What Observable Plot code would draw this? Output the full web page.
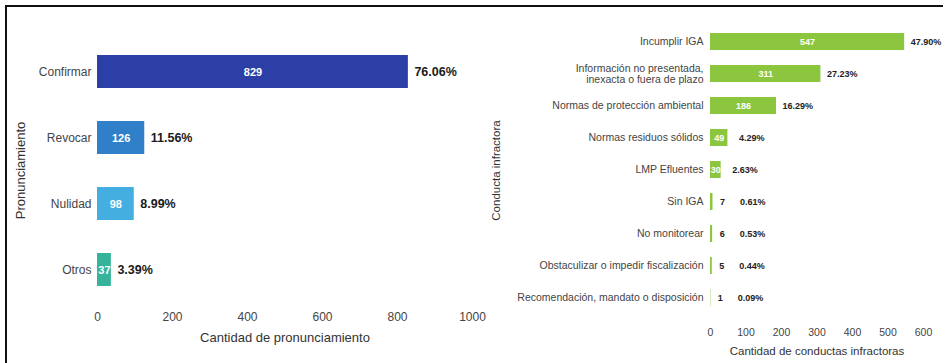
<!DOCTYPE html>
<html>
<head>
<meta charset="utf-8">
<script src="https://cdn.jsdelivr.net/npm/d3@7"></script>
<script src="https://cdn.jsdelivr.net/npm/@observablehq/plot@0.6"></script>
<style>
  html, body { margin: 0; padding: 0; background: #fff; }
  #wrap { position: relative; width: 945px; height: 363px; overflow: hidden; font-family: "Liberation Sans", Arial, sans-serif; }
  #frame { position: absolute; left: 5px; top: 5px; right: 2px; bottom: -5px; border-top: 2px solid #111; border-left: 2px solid #111; }
  #left { position: absolute; left: 0; top: 0; }
  #right { position: absolute; left: 480px; top: 0; }
  svg { overflow: visible; }
  #left g[aria-label="x-axis label"] text, #left g[aria-label="y-axis label"] text { font-size: 13px; fill: #333; }
  #right g[aria-label="x-axis label"] text, #right g[aria-label="y-axis label"] text { font-size: 11.5px; fill: #333; }
</style>
</head>
<body>
<div id="wrap">
  <div id="frame"></div>
  <div id="left"></div>
  <div id="right"></div>
</div>
<script>
// ---- Left chart data ----
const leftCats = ["Confirmar", "Revocar", "Nulidad", "Otros"];
const leftValues = [829, 126, 98, 37];
const leftPct = ["76.06%", "11.56%", "8.99%", "3.39%"];
const leftColors = ["#2b3fa6", "#2f80c8", "#45aee0", "#36b39b"];
const leftTicks = [0, 200, 400, 600, 800, 1000];

// ---- Right chart data ----
const rightCats = [
  "Incumplir IGA",
  "Información no presentada,\ninexacta o fuera de plazo",
  "Normas de protección ambiental",
  "Normas residuos sólidos",
  "LMP Efluentes",
  "Sin IGA",
  "No monitorear",
  "Obstaculizar o impedir fiscalización",
  "Recomendación, mandato o disposición"
];
const rightValues = [547, 311, 186, 49, 30, 7, 6, 5, 1];
const rightPct = ["47.90%", "27.23%", "16.29%", "4.29%", "2.63%", "0.61%", "0.53%", "0.44%", "0.09%"];
const rightColor = "#8cc63e";
const rightTicks = [0, 100, 200, 300, 400, 500, 600];

const leftData = leftCats.map((c, i) => ({cat: c, value: leftValues[i], pct: leftPct[i]}));
const rightData = rightCats.map((c, i) => ({cat: c, value: rightValues[i], pct: rightPct[i]}));

const font = "'Liberation Sans', Arial, sans-serif";

const left = Plot.plot({
  width: 480, height: 363,
  marginLeft: 97, marginRight: 8, marginTop: 37, marginBottom: 60,
  style: {fontFamily: font, background: "transparent", overflow: "visible", color: "#444"},
  x: {domain: [0, 1000]},
  y: {domain: leftCats, paddingInner: 0.5, paddingOuter: 0.25},
  color: {domain: leftCats, range: leftColors},
  marks: [
    Plot.barX(leftData, {x: "value", y: "cat", fill: "cat"}),
    Plot.text(leftData, {x: d => d.value / 2, y: "cat", text: d => String(d.value), fill: "white", fontWeight: "bold", fontSize: 11}),
    Plot.text(leftData, {x: "value", y: "cat", text: "pct", textAnchor: "start", dx: 6, fontWeight: "bold", fontSize: 12.5, fill: "#1a1a1a"}),
    Plot.axisX({ticks: leftTicks, tickFormat: d => String(d), tickSize: 0, tickPadding: 9, fontSize: 12, label: "Cantidad de pronunciamiento", labelAnchor: "center", labelArrow: "none", labelOffset: 38}),
    Plot.axisY({tickSize: 0, tickPadding: 6, fontSize: 12, label: "Pronunciamiento", labelAnchor: "center", labelArrow: "none", labelOffset: 82})
  ]
});
document.getElementById("left").appendChild(left);

const big = rightData.filter(d => d.value >= 100);
const mid = rightData.filter(d => d.value >= 10 && d.value < 100);
const small = rightData.filter(d => d.value < 10);

const right = Plot.plot({
  width: 465, height: 363,
  marginLeft: 230, marginRight: 22, marginTop: 24, marginBottom: 47,
  style: {fontFamily: font, background: "transparent", overflow: "visible", color: "#444"},
  x: {domain: [0, 600]},
  y: {domain: rightCats, paddingInner: 0.46, paddingOuter: 0.23},
  marks: [
    Plot.barX(rightData, {x: "value", y: "cat", fill: rightColor}),
    Plot.text(big.concat(mid), {x: d => d.value / 2, y: "cat", text: d => String(d.value), fill: "white", fontWeight: "bold", fontSize: 9}),
    Plot.text(small, {x: "value", y: "cat", text: d => String(d.value), textAnchor: "start", dx: 7, fill: "#222", fontWeight: "bold", fontSize: 9}),
    Plot.text(big, {x: "value", y: "cat", text: "pct", textAnchor: "start", dx: 6, fill: "#222", fontWeight: "bold", fontSize: 9}),
    Plot.text(mid, {x: "value", y: "cat", text: "pct", textAnchor: "start", dx: 11, fill: "#222", fontWeight: "bold", fontSize: 9}),
    Plot.text(small, {x: "value", y: "cat", text: "pct", textAnchor: "start", dx: 27, fill: "#222", fontWeight: "bold", fontSize: 9}),
    Plot.axisX({ticks: rightTicks, tickSize: 0, tickPadding: 12, fontSize: 10.5, label: "Cantidad de conductas infractoras", labelAnchor: "center", labelArrow: "none", labelOffset: 38}),
    Plot.axisY({tickSize: 0, tickPadding: 7, fontSize: 10.5, label: "Conducta infractora", labelAnchor: "center", labelArrow: "none", labelOffset: 219})
  ]
});
document.getElementById("right").appendChild(right);
</script>
</body>
</html>
